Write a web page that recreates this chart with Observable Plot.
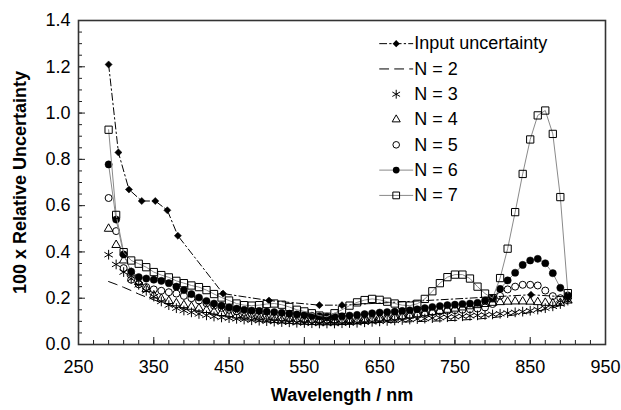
<!DOCTYPE html>
<html>
<head>
<meta charset="utf-8">
<script src="https://cdn.jsdelivr.net/npm/d3@7"></script>
<script src="https://cdn.jsdelivr.net/npm/@observablehq/plot@0.6"></script>
<style>
  html, body { margin: 0; padding: 0; background: #fff; }
  #chart svg { display: block; }
</style>
</head>
<body>
<div id="chart"></div>
<script>
// ---------- data ----------
const wavelengths = [290,300,310,320,330,340,350,360,370,380,390,400,410,420,430,440,450,460,470,480,490,500,510,520,530,540,550,560,570,580,590,600,610,620,630,640,650,660,670,680,690,700,710,720,730,740,750,760,770,780,790,800,810,820,830,840,850,860,870,880,890,900];

const inputWavelengths = [290,303,317,334,352,368,382,442,503,570,600,851,900];
const inputValues      = [1.21,0.83,0.67,0.62,0.62,0.58,0.47,0.22,0.19,0.17,0.17,0.215,0.205];

const n2 = [0.272,0.26,0.247,0.233,0.218,0.205,0.193,0.182,0.172,0.163,0.155,0.148,0.142,0.136,0.131,0.126,0.122,0.118,0.115,0.112,0.109,0.107,0.105,0.103,0.101,0.099,0.098,0.097,0.096,0.095,0.094,0.094,0.094,0.094,0.094,0.094,0.095,0.095,0.096,0.097,0.098,0.099,0.1,0.101,0.102,0.103,0.104,0.106,0.108,0.11,0.113,0.116,0.12,0.124,0.128,0.133,0.138,0.144,0.151,0.159,0.168,0.178];

const n3 = [0.388,0.346,0.313,0.284,0.258,0.232,0.207,0.186,0.17,0.157,0.147,0.139,0.132,0.126,0.121,0.117,0.114,0.111,0.108,0.105,0.103,0.101,0.099,0.097,0.096,0.094,0.093,0.092,0.091,0.091,0.091,0.092,0.093,0.094,0.096,0.098,0.1,0.102,0.104,0.106,0.108,0.11,0.112,0.114,0.116,0.118,0.12,0.122,0.124,0.126,0.128,0.13,0.133,0.136,0.139,0.142,0.146,0.151,0.157,0.165,0.175,0.19];

const n4 = [0.5,0.43,0.363,0.31,0.27,0.24,0.212,0.198,0.188,0.178,0.17,0.163,0.156,0.149,0.142,0.136,0.13,0.125,0.12,0.116,0.112,0.109,0.106,0.104,0.102,0.1,0.098,0.097,0.096,0.096,0.096,0.097,0.098,0.1,0.102,0.105,0.108,0.112,0.116,0.12,0.125,0.13,0.135,0.14,0.145,0.15,0.155,0.16,0.165,0.17,0.175,0.18,0.183,0.185,0.186,0.186,0.185,0.183,0.18,0.178,0.18,0.19];

const n5 = [0.633,0.49,0.33,0.28,0.26,0.248,0.238,0.232,0.226,0.22,0.21,0.2,0.19,0.178,0.168,0.158,0.15,0.143,0.137,0.132,0.128,0.124,0.12,0.117,0.114,0.111,0.108,0.106,0.104,0.103,0.102,0.102,0.103,0.105,0.108,0.11,0.113,0.116,0.12,0.124,0.128,0.132,0.136,0.14,0.143,0.146,0.148,0.15,0.152,0.155,0.16,0.175,0.21,0.238,0.25,0.258,0.258,0.255,0.233,0.209,0.2,0.2];

const n6 = [0.778,0.54,0.389,0.315,0.291,0.285,0.28,0.275,0.265,0.25,0.235,0.218,0.203,0.188,0.177,0.168,0.16,0.155,0.15,0.147,0.145,0.142,0.14,0.137,0.133,0.13,0.127,0.124,0.122,0.12,0.12,0.122,0.125,0.128,0.131,0.135,0.138,0.14,0.142,0.145,0.148,0.152,0.157,0.162,0.166,0.17,0.172,0.175,0.177,0.18,0.19,0.2,0.24,0.277,0.31,0.344,0.363,0.37,0.351,0.308,0.245,0.212];

const n7 = [0.928,0.56,0.399,0.363,0.349,0.334,0.313,0.3,0.29,0.275,0.265,0.255,0.248,0.235,0.218,0.203,0.19,0.177,0.17,0.168,0.17,0.175,0.177,0.172,0.162,0.15,0.143,0.135,0.125,0.12,0.135,0.15,0.168,0.182,0.192,0.197,0.193,0.185,0.177,0.17,0.168,0.176,0.197,0.23,0.265,0.291,0.302,0.302,0.285,0.25,0.22,0.2,0.287,0.414,0.572,0.737,0.886,0.99,1.011,0.91,0.637,0.222];

const legendLabels = ["Input uncertainty", "N = 2", "N = 3", "N = 4", "N = 5", "N = 6", "N = 7"];
const xTicks = [250,350,450,550,650,750,850,950];
const yTicks = [0,0.2,0.4,0.6,0.8,1.0,1.2,1.4];

// ---------- build ----------
const rows = (vals) => wavelengths.map((w, i) => ({x: w, y: vals[i]}));
const inputRows = inputWavelengths.map((w, i) => ({x: w, y: inputValues[i]}));

const xMinor = d3.range(250, 951, 20);
const yMinor = d3.range(0, 1.4001, 0.05);

const W = 621, H = 410, mL = 78, mR = 16, mT = 20, mB = 66;
const plotW = W - mL - mR, plotH = H - mT - mB;

// legend placement (in data space)
const legX0 = 650, legX1 = 694, legXm = 672, legXt = 696;
const legTop = 1.30, legStep = 0.1093;
const legY = (i) => legTop - i * legStep;
const leg = legendLabels.map((t, i) => ({t, y: legY(i)}));
const seg = (i) => [{x: legX0, y: legY(i)}, {x: legX1, y: legY(i)}];
const pt = (i) => [{x: legXm, y: legY(i)}];

const grayLine = "#8a8a8a";
const font = "Liberation Sans, Arial, sans-serif";
const fs = 18;

const chart = Plot.plot({
  width: W, height: H,
  marginLeft: mL, marginRight: mR, marginTop: mT, marginBottom: mB,
  style: {fontFamily: font, fontSize: fs + "px", color: "#000", background: "#fff"},
  x: {domain: [250, 950]},
  y: {domain: [0, 1.4]},
  marks: [
    // axes text
    Plot.axisX({ticks: xTicks, tickSize: 0, tickPadding: 16, tickFormat: d => String(d), fontSize: fs, label: null}),
    Plot.axisY({ticks: yTicks, tickSize: 0, tickPadding: 8, tickFormat: d3.format(".1f"), fontSize: fs, label: null}),
    // inward ticks
    Plot.tickX(xMinor, {x: d => d, insetTop: plotH - 4, stroke: "#222", strokeWidth: 1}),
    Plot.tickX(xTicks, {x: d => d, insetTop: plotH - 7, stroke: "#222", strokeWidth: 1}),
    Plot.tickY(yMinor, {y: d => d, insetRight: plotW - 4, stroke: "#222", strokeWidth: 1}),
    Plot.tickY(yTicks, {y: d => d, insetRight: plotW - 7, stroke: "#222", strokeWidth: 1}),
    Plot.frame({stroke: "#333", strokeWidth: 1.6}),

    // Input uncertainty
    Plot.line(inputRows, {x: "x", y: "y", stroke: "#000", strokeWidth: 1, strokeDasharray: "7,3,1.5,3"}),
    Plot.dot(inputRows, {x: "x", y: "y", symbol: "diamond2", r: 3.2, fill: "#000", stroke: "#000", strokeWidth: 0.5}),
    // N = 2
    Plot.line(rows(n2), {x: "x", y: "y", stroke: "#000", strokeWidth: 1, strokeDasharray: "9,6"}),
    // N = 3
    Plot.dot(rows(n3), {x: "x", y: "y", symbol: "asterisk", r: 4.6, stroke: "#000", strokeWidth: 1}),
    // N = 4
    Plot.dot(rows(n4), {x: "x", y: "y", symbol: "triangle", r: 3.2, fill: "none", stroke: "#000", strokeWidth: 1}),
    // N = 5
    Plot.dot(rows(n5), {x: "x", y: "y", symbol: "circle", r: 3.5, fill: "none", stroke: "#000", strokeWidth: 1}),
    // N = 6
    Plot.line(rows(n6), {x: "x", y: "y", stroke: grayLine, strokeWidth: 1}),
    Plot.dot(rows(n6), {x: "x", y: "y", symbol: "circle", r: 3.6, fill: "#000", stroke: "#000", strokeWidth: 0.5}),
    // N = 7
    Plot.line(rows(n7), {x: "x", y: "y", stroke: grayLine, strokeWidth: 1}),
    Plot.dot(rows(n7), {x: "x", y: "y", symbol: "square", r: 4.1, fill: "none", stroke: "#000", strokeWidth: 1}),

    // legend
    Plot.line(seg(0), {x: "x", y: "y", stroke: "#000", strokeWidth: 1, strokeDasharray: "7,3,1.5,3"}),
    Plot.dot(pt(0), {x: "x", y: "y", symbol: "diamond2", r: 3.2, fill: "#000"}),
    Plot.line(seg(1), {x: "x", y: "y", stroke: "#000", strokeWidth: 1, strokeDasharray: "9,6"}),
    Plot.dot(pt(2), {x: "x", y: "y", symbol: "asterisk", r: 4.2, stroke: "#000", strokeWidth: 1}),
    Plot.dot(pt(3), {x: "x", y: "y", symbol: "triangle", r: 3, fill: "none", stroke: "#000", strokeWidth: 1}),
    Plot.dot(pt(4), {x: "x", y: "y", symbol: "circle", r: 3.3, fill: "none", stroke: "#000", strokeWidth: 1}),
    Plot.line(seg(5), {x: "x", y: "y", stroke: grayLine, strokeWidth: 1}),
    Plot.dot(pt(5), {x: "x", y: "y", symbol: "circle", r: 3.4, fill: "#000"}),
    Plot.line(seg(6), {x: "x", y: "y", stroke: grayLine, strokeWidth: 1}),
    Plot.dot(pt(6), {x: "x", y: "y", symbol: "square", r: 3.8, fill: "none", stroke: "#000", strokeWidth: 1}),
    Plot.text(leg, {x: () => legXt, y: "y", text: "t", textAnchor: "start", fontSize: fs, fill: "#000"}),

    // titles
    Plot.text(["Wavelength / nm"], {frameAnchor: "bottom", dy: 56, fontWeight: "bold", fontSize: fs, fill: "#000"}),
    Plot.text(["100 x Relative Uncertainty"], {frameAnchor: "left", dx: -58, rotate: -90, textAnchor: "middle", fontWeight: "bold", fontSize: fs, fill: "#000"})
  ]
});
document.getElementById("chart").appendChild(chart);
</script>
</body>
</html>
